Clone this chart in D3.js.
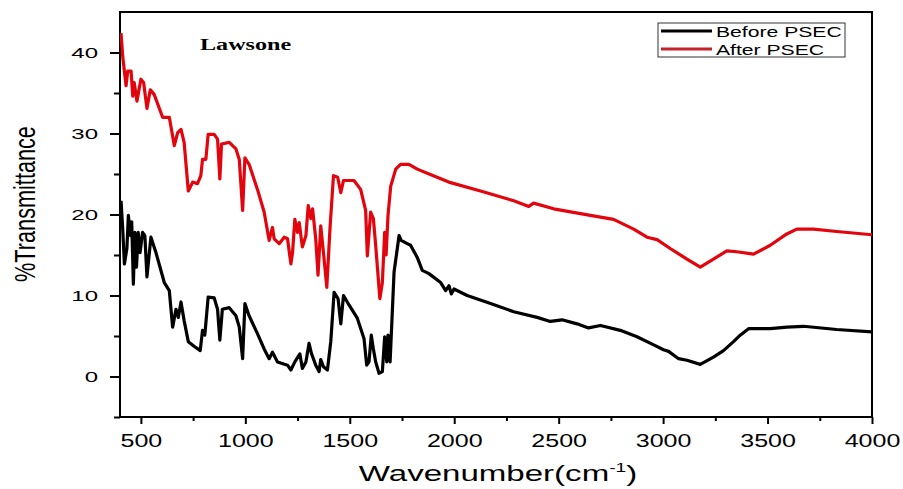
<!DOCTYPE html>
<html lang="en">
<head>
    <meta charset="UTF-8">
    <title>Lawsone FTIR</title>
    <script src="https://d3js.org/d3.v7.min.js"></script>
    <style>
        body { margin: 0; background: #fff; }
        text { font-family: "Liberation Sans", Arial, sans-serif; fill: #000; }
        .axis path.domain { display: none; }
        .axis line { stroke: #000; stroke-width: 2px; }
    </style>
</head>
<body>
    <div id="chart"></div>
    <script>
        // Before PSEC (black)
        const beforeWn = [405, 413, 421, 433, 440, 450, 456, 464, 471, 479, 487, 496, 508, 519, 529, 548, 572, 612, 636, 652,
            668, 679, 692, 707, 727, 756, 784, 795, 806, 822, 851, 867, 878, 890, 923, 955, 971, 987, 998, 1018,
            1058, 1090, 1114, 1130, 1154, 1202, 1218, 1237, 1261, 1273, 1290, 1305, 1317, 1337, 1353, 1361, 1374, 1393, 1409, 1425,
            1444, 1457, 1470, 1497, 1536, 1568, 1581, 1592, 1603, 1613, 1624, 1640, 1656, 1667, 1677, 1683, 1693, 1712, 1736, 1746,
            1775, 1791, 1823, 1847, 1879, 1935, 1959, 1975, 1986, 1999, 2062, 2174, 2285, 2397, 2460, 2516, 2588, 2643, 2700, 2795,
            2875, 2955, 3002, 3026, 3074, 3114, 3178, 3241, 3289, 3337, 3369, 3409, 3513, 3592, 3672, 3831, 4000];
        const beforeT = [21.7, 18.2, 13.9, 15.8, 19.9, 17.4, 19.1, 11.4, 17.8, 13.5, 17.8, 15.3, 17.8, 17.4, 12.3, 17.2, 15.3, 11.6, 10.6, 6.1,
            8.3, 7.3, 9.2, 6.9, 4.3, 3.7, 3.2, 5.7, 5.1, 9.8, 9.7, 8.3, 4.5, 8.3, 8.5, 7.5, 6.1, 2.2, 9.0, 7.5,
            5.3, 3.4, 2.2, 3.0, 1.8, 1.4, 0.8, 1.8, 2.8, 1.0, 1.8, 4.1, 2.8, 1.4, 0.6, 2.1, 1.2, 0.8, 4.3, 10.4,
            9.6, 6.5, 10.0, 8.8, 7.2, 4.7, 1.4, 1.8, 5.1, 3.4, 1.8, 0.4, 0.6, 4.9, 1.8, 5.1, 1.8, 12.9, 17.4, 16.8,
            16.4, 16.2, 14.7, 13.1, 12.7, 11.6, 10.6, 11.2, 10.2, 10.8, 10.0, 9.0, 8.0, 7.3, 6.8, 7.0, 6.5, 6.0, 6.3, 5.7,
            4.9, 3.9, 3.3, 3.1, 2.2, 2.0, 1.5, 2.4, 3.2, 4.3, 5.1, 5.9, 5.9, 6.1, 6.2, 5.8, 5.5];

        // After PSEC (red)
        const afterWn = [405, 413, 429, 437, 453, 461, 468, 481, 500, 513, 529, 545, 564, 604, 636, 660, 676, 692, 707, 727,
            748, 771, 787, 795, 811, 822, 851, 867, 878, 886, 923, 955, 971, 987, 998, 1018, 1058, 1090, 1114, 1130,
            1138, 1162, 1186, 1202, 1218, 1226, 1237, 1250, 1258, 1273, 1290, 1301, 1314, 1322, 1337, 1348, 1361, 1374, 1390, 1406,
            1422, 1442, 1457, 1470, 1520, 1552, 1576, 1584, 1600, 1613, 1624, 1644, 1656, 1667, 1674, 1683, 1696, 1720, 1743, 1783,
            1823, 1871, 1974, 2126, 2285, 2357, 2380, 2476, 2652, 2763, 2795, 2859, 2923, 2971, 3034, 3114, 3178, 3241, 3305, 3353,
            3433, 3513, 3592, 3640, 3720, 3831, 4000];
        const afterT = [42.4, 39.5, 35.9, 37.7, 37.7, 34.6, 36.3, 34.0, 36.7, 36.3, 33.1, 35.4, 34.8, 32.0, 32.0, 28.5, 30.1, 30.5, 28.9, 22.9,
            24.0, 23.8, 24.8, 26.8, 26.8, 29.9, 29.9, 29.3, 24.4, 28.7, 28.9, 28.1, 26.8, 20.5, 27.0, 26.2, 23.1, 20.3, 16.8, 18.4,
            17.0, 16.4, 17.2, 17.0, 13.9, 15.3, 19.4, 17.8, 19.0, 16.0, 17.4, 21.1, 19.5, 20.7, 17.0, 12.5, 18.6, 15.3, 11.0, 18.6,
            24.8, 24.6, 22.7, 24.2, 24.2, 23.1, 20.5, 14.9, 20.3, 19.5, 16.2, 9.6, 11.6, 17.8, 15.0, 19.9, 23.5, 25.6, 26.2, 26.2,
            25.6, 25.1, 24.0, 22.9, 21.7, 21.0, 21.4, 20.7, 19.9, 19.4, 19.0, 18.2, 17.2, 16.9, 15.8, 14.5, 13.5, 14.5, 15.5, 15.4,
            15.1, 16.2, 17.6, 18.2, 18.2, 17.9, 17.5];

        // Ticks
        const xMajor = [500, 1000, 1500, 2000, 2500, 3000, 3500, 4000];
        const xMinor = [750, 1250, 1750, 2250, 2750, 3250, 3750];
        const yMajor = [0, 10, 20, 30, 40];
        const yMinor = [-5, 5, 15, 25, 35];

        const width = 903;
        const height = 489;
        const plotL = 120, plotR = 872, plotT = 12, plotB = 417;

        const svg = d3.select("#chart")
            .append("svg")
            .attr("width", width)
            .attr("height", height);

        svg.append("rect").attr("width", width).attr("height", height).attr("fill", "#fff");

        const x = d3.scaleLinear().domain([400, 4000]).range([plotL, plotR]);
        const y = d3.scaleLinear().domain([-5, 45]).range([plotB, plotT]);

        // x axis, major + minor
        const gx = svg.append("g")
            .attr("class", "axis")
            .attr("transform", `translate(0,${plotB})`)
            .call(d3.axisBottom(x).tickValues(xMajor).tickSize(7).tickFormat(d3.format("d")));
        gx.selectAll("text")
            .attr("y", 0).attr("dy", 0)
            .attr("transform", "translate(0,30) scale(1.43,1)")
            .style("font-size", "17.5px");
        svg.append("g")
            .attr("class", "axis")
            .attr("transform", `translate(0,${plotB})`)
            .call(d3.axisBottom(x).tickValues(xMinor).tickSize(4).tickFormat(""));

        // y axis, major + minor
        const gy = svg.append("g")
            .attr("class", "axis")
            .attr("transform", `translate(${plotL},0)`)
            .call(d3.axisLeft(y).tickValues(yMajor).tickSize(10));
        gy.selectAll("text")
            .attr("x", 0).attr("dy", "0.36em")
            .attr("transform", "translate(-22,0) scale(1.6,1)")
            .style("font-size", "15px");
        svg.append("g")
            .attr("class", "axis")
            .attr("transform", `translate(${plotL},0)`)
            .call(d3.axisLeft(y).tickValues(yMinor).tickSize(6).tickFormat(""));

        // plot frame
        svg.append("rect")
            .attr("x", plotL).attr("y", plotT)
            .attr("width", plotR - plotL).attr("height", plotB - plotT)
            .attr("fill", "none")
            .attr("stroke", "#000")
            .attr("stroke-width", 2);

        svg.append("clipPath").attr("id", "clip")
            .append("rect")
            .attr("x", plotL).attr("y", plotT)
            .attr("width", plotR - plotL).attr("height", plotB - plotT);

        const line = d3.line()
            .x(d => x(d[0]))
            .y(d => y(d[1]));

        const series = [
            { wn: beforeWn, t: beforeT, color: "#000" },
            { wn: afterWn, t: afterT, color: "#e3050d" }
        ];

        svg.append("g")
            .attr("clip-path", "url(#clip)")
            .selectAll("path")
            .data(series)
            .enter().append("path")
            .attr("d", s => line(d3.zip(s.wn, s.t)))
            .attr("fill", "none")
            .attr("stroke", s => s.color)
            .attr("stroke-width", 3.2)
            .attr("stroke-linejoin", "round");

        // title inside the plot
        svg.append("text")
            .attr("transform", "translate(200,50) scale(1.42,1)")
            .style("font-family", "'Liberation Serif', 'Times New Roman', serif")
            .style("font-weight", "bold")
            .style("font-size", "17px")
            .text("Lawsone");

        // axis titles
        const xt = svg.append("text")
            .attr("transform", `translate(${(plotL + plotR) / 2 + 2},481) scale(1.47,1)`)
            .attr("text-anchor", "middle")
            .style("font-size", "22.5px");
        xt.append("tspan").text("Wavenumber(cm");
        xt.append("tspan").attr("dy", -9).style("font-size", "13px").text("-1");
        xt.append("tspan").attr("dy", 9).text(")");

        svg.append("text")
            .attr("transform", "translate(35,204) scale(1.4,1) rotate(-90)")
            .attr("text-anchor", "middle")
            .style("font-size", "21.7px")
            .text("%Transmittance");

        // legend
        const legend = svg.append("g");
        legend.append("rect")
            .attr("x", 658).attr("y", 23)
            .attr("width", 187).attr("height", 34)
            .attr("fill", "#fff")
            .attr("stroke", "#333")
            .attr("stroke-width", 1);
        const items = [
            { label: "Before PSEC", color: "#000", yy: 31 },
            { label: "After PSEC", color: "#c4232b", yy: 49 }
        ];
        items.forEach(it => {
            legend.append("line")
                .attr("x1", 661).attr("x2", 712)
                .attr("y1", it.yy).attr("y2", it.yy)
                .attr("stroke", it.color)
                .attr("stroke-width", 3);
            legend.append("text")
                .attr("transform", `translate(716,${it.yy + 5.5}) scale(1.41,1)`)
                .style("font-size", "15px")
                .text(it.label);
        });
    </script>
</body>
</html>
